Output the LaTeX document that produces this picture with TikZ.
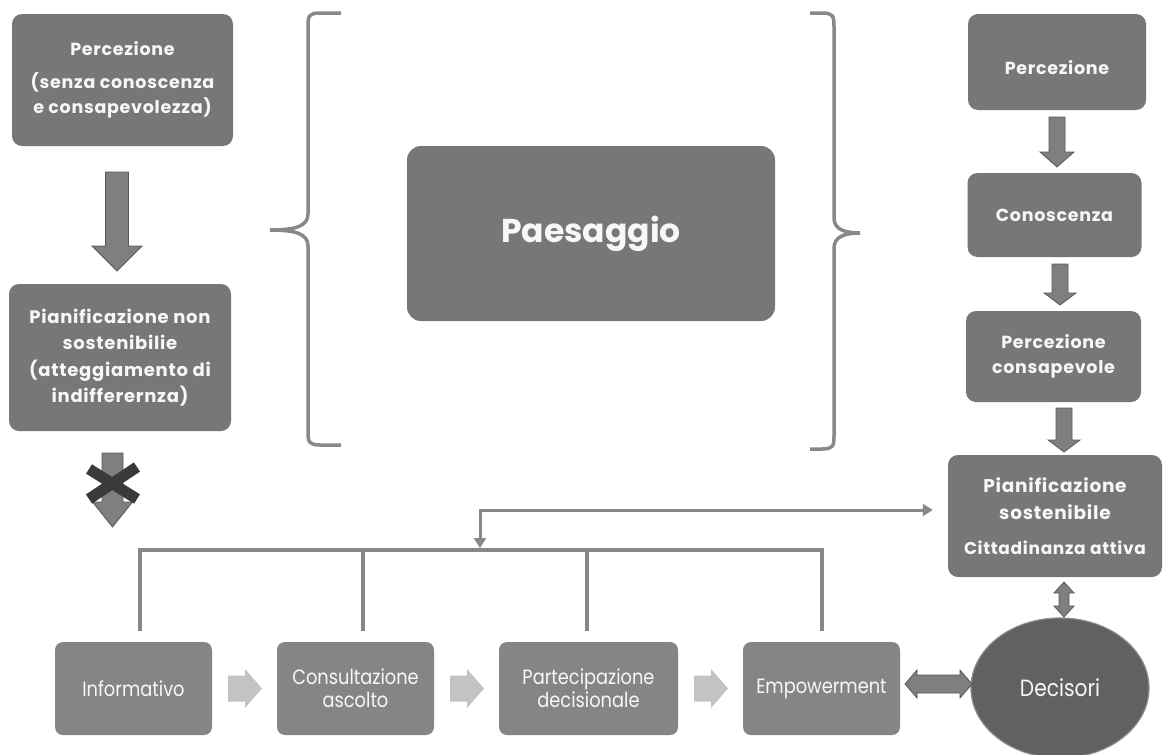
\documentclass[tikz,border=0pt]{standalone}
\usepackage{fontspec}
\setmainfont{Poppins}
\newfontfamily\boxfont{Poppins}[LetterSpace=4]
\newfontfamily\botfont{Poppins}[FakeStretch=0.86]
\usetikzlibrary{arrows.meta,shapes.geometric}
\definecolor{boxA}{HTML}{777777}
\definecolor{boxB}{HTML}{858585}
\definecolor{arrF}{HTML}{7F7F7F}
\definecolor{arrD}{HTML}{595959}
\definecolor{crossC}{HTML}{3A3A3A}
\definecolor{lightA}{HTML}{C3C3C3}
\definecolor{lineC}{HTML}{888888}
\definecolor{ellF}{HTML}{616161}
\definecolor{ellD}{HTML}{8C8C8C}
\definecolor{txtW}{HTML}{F7F7F7}
\tikzset{
 topbox/.style={fill=boxA, rounded corners=10pt, text=txtW, align=center, font=\boxfont\bfseries\fontsize{17.5}{25}\selectfont, inner sep=0pt},
 botbox/.style={fill=boxB, rounded corners=8pt, text=txtW, align=center, font=\botfont\fontsize{20.7}{23}\selectfont, minimum width=157pt, minimum height=93pt, inner sep=0pt},
 blockarr/.style={fill=arrF, draw=arrD, line width=0.8pt, line join=miter},
 lightarr/.style={fill=lightA},
 conn/.style={draw=lineC, line width=4pt},
 bracec/.style={draw=lineC, line width=3.5pt},
 fbtip/.tip={Triangle[length=10pt,width=12pt]},
 boxtext/.style={text=txtW, align=center, font=\boxfont\bfseries\fontsize{17.5}{25}\selectfont, inner sep=0pt},
}
\newcommand{\DownBlk}[6]{\path[blockarr] ({#1-#5},#2) -- ({#1+#5},#2) -- ({#1+#5},#3) -- ({#1+#6},#3) -- (#1,#4) -- ({#1-#6},#3) -- ({#1-#5},#3) -- cycle;}
\newcommand{\RightBlk}[6]{\path[lightarr] (#1,{#4-#5}) -- (#2,{#4-#5}) -- (#2,{#4-#6}) -- (#3,#4) -- (#2,{#4+#6}) -- (#2,{#4+#5}) -- (#1,{#4+#5}) -- cycle;}
% cx, ytop, ybot, headlen, shafthalf, headhalf
\newcommand{\VDblBlk}[6]{\path[blockarr] (#1,#2) -- ({#1+#6},{#2+#4}) -- ({#1+#5},{#2+#4}) -- ({#1+#5},{#3-#4}) -- ({#1+#6},{#3-#4}) -- (#1,#3) -- ({#1-#6},{#3-#4}) -- ({#1-#5},{#3-#4}) -- ({#1-#5},{#2+#4}) -- ({#1-#6},{#2+#4}) -- cycle;}
% cy, xleft, xright, headlen, shafthalf, headhalf
\newcommand{\HDblBlk}[6]{\path[blockarr] (#2,#1) -- ({#2+#4},{#1-#6}) -- ({#2+#4},{#1-#5}) -- ({#3-#4},{#1-#5}) -- ({#3-#4},{#1-#6}) -- (#3,#1) -- ({#3-#4},{#1+#6}) -- ({#3-#4},{#1+#5}) -- ({#2+#4},{#1+#5}) -- ({#2+#4},{#1+#6}) -- cycle;}
\begin{document}
\begin{tikzpicture}[x=1pt,y=-1pt]
\fill[white] (0,0) rectangle (1165,755);
\useasboundingbox (0,0) rectangle (1165,755);

% braces
\draw[bracec] (341,13) -- (320,13) .. controls (309,13) and (308,16) .. (308,26) -- (308,214)
  .. controls (308,226) and (296,230) .. (270,230) .. controls (296,230) and (308,234) .. (308,246)
  -- (308,432) .. controls (308,442) and (309,445) .. (320,445) -- (341,445);
\draw[bracec] (810,13) -- (822,13) .. controls (833,13) and (834,16) .. (834,26) -- (834,218)
  .. controls (834,229) and (844,233) .. (860,233) .. controls (844,233) and (834,237) .. (834,248)
  -- (834,436) .. controls (834,446) and (833,449) .. (822,449) -- (810,449);

% left column
\node[topbox, minimum width=221pt, minimum height=132pt] (p1) at (122.5,80)
  {Percezione\\[8pt](senza conoscenza\\e consapevolezza)};
\node[topbox, minimum width=222pt, minimum height=147pt, font=\boxfont\bfseries\fontsize{18}{26.5}\selectfont] (p2) at (120,357.5)
  {Pianificazione non\\sostenibilie\\(atteggiamento di\\indifferernza)};
\DownBlk{117}{172}{246}{271}{11.5}{25}
\DownBlk{112.5}{453}{502}{527}{10.5}{20}
\draw[crossC, line width=11pt] (89,469) -- (137,499);
\draw[crossC, line width=11pt] (137,467) -- (89,499);

% centre
\node[topbox, minimum width=368pt, minimum height=175pt, rounded corners=14pt, font=\bfseries\fontsize{33}{36}\selectfont] (pae) at (591,233.5) {Paesaggio};

% right column
\node[topbox, minimum width=178pt, minimum height=96pt] (r1) at (1057,62) {};
\node[boxtext] (r1t) at ([yshift=-6pt]r1.center) {Percezione};
\node[topbox, minimum width=174pt, minimum height=84pt] (r2) at (1054.5,215) {Conoscenza};
\node[topbox, minimum width=175pt, minimum height=91pt] (r3) at (1053.5,356.5) {Percezione\\consapevole};
\node[topbox, minimum width=214pt, minimum height=122pt, font=\boxfont\bfseries\fontsize{18.5}{27}\selectfont] (r4) at (1055,516)
  {Pianificazione\\sostenibile\\[8pt]{\fontsize{17}{20}\selectfont Cittadinanza attiva}};
\DownBlk{1057}{117}{152}{167}{8}{17}
\DownBlk{1060}{264}{293}{305}{8}{16}
\DownBlk{1064}{408}{440}{452}{8}{16}

% bottom row
\node[botbox] (inf) at (133.5,688.5) {Informativo};
\node[botbox] (con) at (355.5,688.5) {Consultazione\\ascolto};
\node[botbox, minimum width=179pt] (par) at (588.5,688.5) {Partecipazione\\decisionale};
\node[botbox] (emp) at (821.5,688.5) {Empowerment};
\node[ellipse, fill=ellF, draw=ellD, line width=1.2pt, minimum width=178pt, minimum height=140pt, inner sep=0pt, text=txtW, font=\botfont\fontsize{23.5}{26}\selectfont] (dec) at (1060,688) {Decisori};

\RightBlk{228}{245}{262}{688.5}{13}{19.5}
\RightBlk{450}{467}{484}{688.5}{13}{19.5}
\RightBlk{694}{711}{728}{688.5}{13}{19.5}
\HDblBlk{684}{905}{972}{12}{9}{14}
\VDblBlk{1064}{582}{617}{11}{5}{10}

% connectors
\coordinate (d1) at ([xshift=6.5pt,yshift=11pt]inf.north);
\coordinate (d2) at ([xshift=7.5pt,yshift=11pt]con.north);
\coordinate (d3) at ([xshift=-1.5pt,yshift=11pt]par.north);
\coordinate (d4) at ([yshift=11pt]emp.north);
\coordinate (bus) at (0,550);
\draw[conn] (d1) -- (d1|-bus) -- (d4|-bus) -- (d4);
\draw[conn] (d2) -- (d2|-bus);
\draw[conn] (d3) -- (d3|-bus);
\coordinate (fbs) at (480,548);
\coordinate (fbe) at ([xshift=-15pt]r4.west|-0,510);
\draw[conn, line width=3pt, fbtip-fbtip] (fbs) -- (fbs|-fbe) -- (fbe);
\end{tikzpicture}
\end{document}
